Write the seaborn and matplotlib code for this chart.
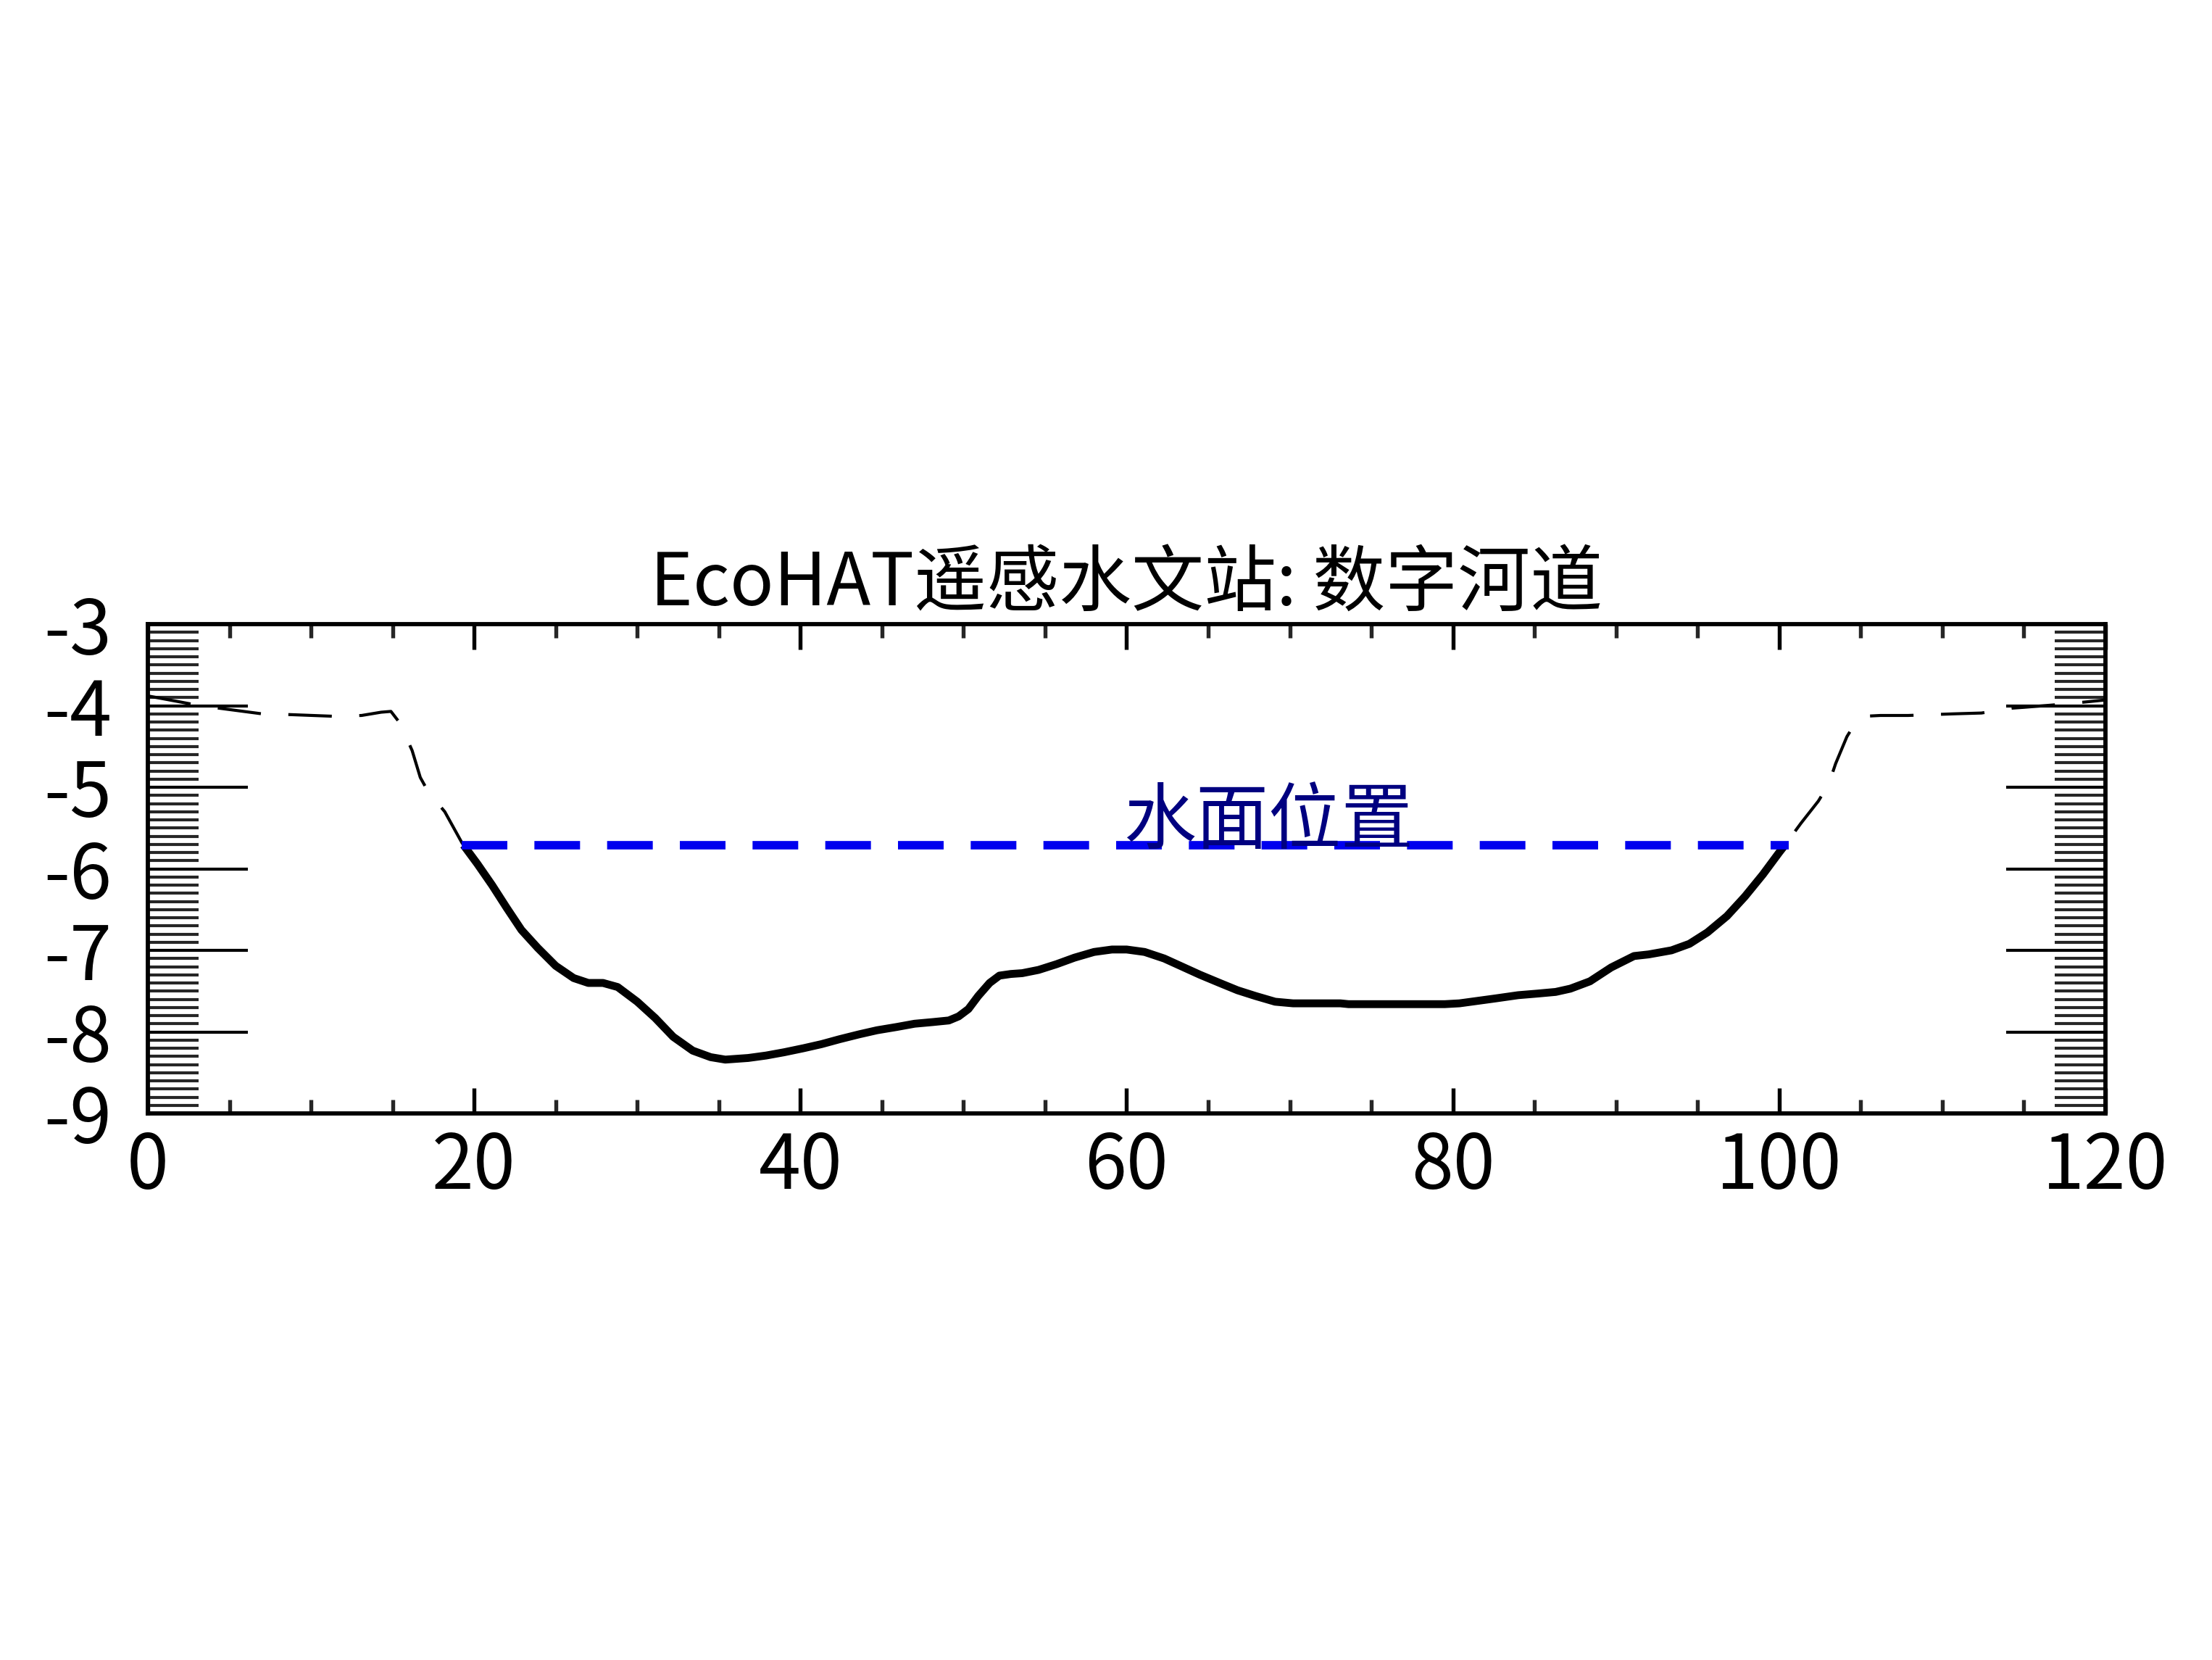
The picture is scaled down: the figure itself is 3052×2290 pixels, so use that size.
import matplotlib
matplotlib.use("Agg")
import matplotlib.pyplot as plt
from matplotlib.ticker import MultipleLocator
import numpy as np
import pandas as pd
import seaborn as sns

# ---- data ----
profile_x = [0, 3.2, 7.0, 8.8, 11.4, 13.1, 14.3, 14.9, 15.4, 15.8, 16.2, 16.7, 17.2, 18.2,
             19.25, 19.35, 20.2, 21.1, 22.0, 22.9, 23.9, 25.0, 26.1, 27.0, 27.9, 28.8, 30.0,
             31.1, 32.2, 33.4, 34.5, 35.4, 36.8, 37.9, 39.0, 40.2, 41.3, 42.4, 43.6, 44.7,
             45.9, 47.0, 48.1, 49.1, 49.7, 50.3, 50.9, 51.6, 52.2, 52.9, 53.6, 54.6, 55.7,
             56.8, 58.0, 59.1, 60.0, 61.1, 62.3, 63.4, 64.5, 65.7, 66.8, 67.9, 69.1, 70.2,
             73.1, 73.6, 79.5, 80.4, 81.5, 82.6, 84.0, 85.2, 86.3, 87.2, 88.4, 89.7, 91.1,
             92.0, 93.4, 94.5, 95.6, 96.8, 97.9, 99.0, 100.0, 100.35, 101.34, 102.4, 103.04,
             103.46, 104.15, 104.67, 105.2, 106.2, 107.9, 110.7, 112.4, 114.3, 115.0, 117.5,
             120]
profile_y = [-3.88, -4.00, -4.10, -4.11, -4.13, -4.12, -4.08, -4.07, -4.20, -4.37, -4.55,
             -4.88, -5.06, -5.30, -5.68, -5.71, -5.94, -6.20, -6.48, -6.75, -6.97, -7.19,
             -7.34, -7.40, -7.40, -7.45, -7.63, -7.83, -8.06, -8.23, -8.31, -8.34, -8.32,
             -8.29, -8.25, -8.20, -8.15, -8.09, -8.03, -7.98, -7.94, -7.90, -7.88, -7.86,
             -7.81, -7.72, -7.56, -7.40, -7.31, -7.29, -7.28, -7.24, -7.17, -7.09, -7.02,
             -6.99, -6.99, -7.02, -7.10, -7.20, -7.30, -7.40, -7.49, -7.56, -7.63, -7.65,
             -7.65, -7.66, -7.66, -7.65, -7.62, -7.59, -7.55, -7.53, -7.51, -7.47, -7.38,
             -7.21, -7.07, -7.05, -7.00, -6.92, -6.78, -6.58, -6.34, -6.07, -5.80, -5.71,
             -5.44, -5.17, -4.96, -4.71, -4.38, -4.21, -4.13, -4.12, -4.12, -4.10, -4.09,
             -4.03, -4.02, -3.98, -3.93]
water_level = -5.71
water_x = [19.25, 100.6]
water_label = "水面位置"
water_label_x = 59.8
title_text = "EcoHAT遥感水文站: 数字河道"
x_ticks = [0, 20, 40, 60, 80, 100, 120]
y_ticks = [-9, -8, -7, -6, -5, -4, -3]

df = pd.DataFrame({"x": profile_x, "y": profile_y})
wet = df[df["y"] <= water_level + 0.005]
wdf = pd.DataFrame({"x": water_x, "y": [water_level] * len(water_x)})

sns.set_style("white")
plt.rcParams["font.family"] = ["Noto Sans CJK SC", "DejaVu Sans"]
plt.rcParams["axes.unicode_minus"] = False
plt.rcParams["text.color"] = "black"

W, H = 3053, 2290
fig = plt.figure(figsize=(W / 300, H / 300), dpi=300)
ax = fig.add_axes([204 / W, 1 - 1536 / H, (2905 - 204) / W, (1536 - 861) / H])

sns.lineplot(data=df, x="x", y="y", ax=ax, color="black", lw=1.0,
             linestyle=(0, (14.4, 9.1)), sort=False, estimator=None, zorder=2)
sns.lineplot(data=wet, x="x", y="y", ax=ax, color="black", lw=2.6,
             sort=False, estimator=None, zorder=3,
             solid_joinstyle="round", solid_capstyle="butt")
sns.lineplot(data=wdf, x="x", y="y", ax=ax, color="#0000EE", lw=2.8,
             linestyle=(0, (5.4, 3.2)), sort=False, estimator=None, zorder=4)
ax.text(water_label_x, water_level + 0.27, water_label, color="#000080", fontsize=24,
        fontweight="medium", ha="left", va="center", zorder=5)

ax.set_xlim(0, 120)
ax.set_ylim(-9, -3)
ax.set_xticks(x_ticks)
ax.set_xticklabels([str(v) for v in x_ticks], fontweight="medium")
ax.set_yticks(y_ticks)
ax.set_yticklabels([str(v) for v in y_ticks], fontweight="medium")
ax.xaxis.set_minor_locator(MultipleLocator(5))
ax.yaxis.set_minor_locator(MultipleLocator(0.1))
ax.set_xlabel("")
ax.set_ylabel("")

ax.tick_params(axis="x", which="major", direction="in", length=8.5, width=1.3,
               top=True, bottom=True, labelsize=25, pad=5, colors="black")
ax.tick_params(axis="x", which="minor", direction="in", length=4.5, width=1.3,
               top=True, bottom=True)
ax.tick_params(axis="y", which="major", direction="in", length=33, width=1.0,
               left=True, right=True, labelsize=25, pad=12, colors="black")
ax.tick_params(axis="y", which="minor", direction="in", length=16.8, width=1.0,
               left=True, right=True)
for s in ax.spines.values():
    s.set_visible(True)
    s.set_linewidth(1.4)
    s.set_color("black")

ax.set_title(title_text, fontsize=24, pad=6, color="black", fontweight="medium")

fig.savefig("out.png", dpi=300, facecolor="white")
